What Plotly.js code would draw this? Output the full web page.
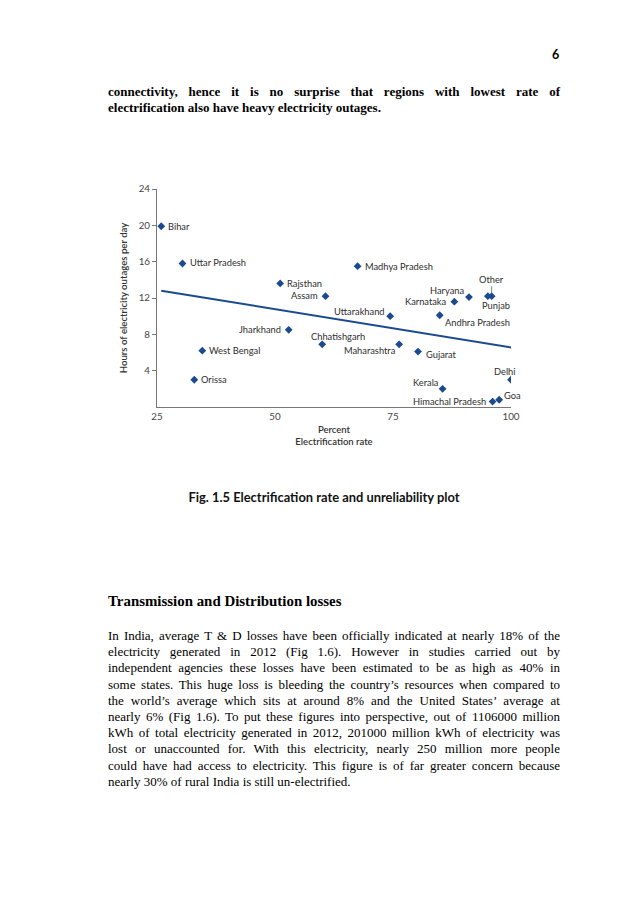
<!DOCTYPE html>
<html>
<head>
<meta charset="utf-8">
<script src="https://cdn.plot.ly/plotly-3.0.1.min.js"></script>
<style>
  html, body { margin: 0; padding: 0; background: #fff; }
  #page { position: relative; width: 638px; height: 903px; background: #fff; overflow: hidden; }
  .ln { position: absolute; left: 108px; width: 452px; white-space: nowrap; font-family: "Liberation Serif", "Times New Roman", serif; font-size: 13px; color: #000; }
  .just { text-align: justify; text-align-last: justify; white-space: normal; }
  .bold { font-weight: bold; }
  #chart { position: absolute; left: 100px; top: 170px; width: 440px; height: 300px; }
  #pnum { position: absolute; left: 552px; top: 47px; font-family: Lato, "Open Sans", sans-serif; font-weight: bold; font-size: 12.5px; }
  #caption { position: absolute; left: 0; width: 648px; top: 489px; text-align: center; font-family: Lato, "Open Sans", sans-serif; font-weight: bold; font-size: 12.9px; color: #111; }
</style>
</head>
<body>
<div id="page">
  <div id="pnum">6</div>
  <div class="ln bold just" style="top:84px;">connectivity, hence it is no surprise that regions with lowest rate of</div>
  <div class="ln bold" style="top:100px;">electrification also have heavy electricity outages.</div>
  <div id="chart"></div>
  <div id="caption">Fig. 1.5 Electrification rate and unreliability plot</div>
  <div class="ln bold" style="top:593px; font-size:14.9px;">Transmission and Distribution losses</div>
  <div id="para"></div>
</div>
<script>
// ---- Data ----
var states = ["Bihar", "Uttar Pradesh", "Rajsthan", "Assam", "Madhya Pradesh", "Haryana",
  "Karnataka", "Other", "Punjab", "Uttarakhand", "Andhra Pradesh", "Chhatishgarh",
  "Maharashtra", "Gujarat", "Delhi", "Kerala", "Himachal Pradesh", "Goa",
  "Jharkhand", "West Bengal", "Orissa"];
var electrificationRate = [25.9, 30.4, 51.1, 60.7, 67.5, 91.1,
  88.0, 95.9, 95.1, 74.4, 84.9, 60.0,
  76.3, 80.3, 100, 85.5, 96.1, 97.5,
  52.9, 34.6, 32.9];
var outageHours = [19.9, 15.8, 13.6, 12.2, 15.5, 12.1,
  11.6, 12.2, 12.2, 10.0, 10.1, 6.9,
  6.9, 6.1, 3.0, 2.0, 0.6, 0.8,
  8.5, 6.2, 3.0];
var trendX = [25.9, 100];
var trendY = [12.8, 6.55];
var xTicks = [25, 50, 75, 100];
var yTicks = [4, 8, 12, 16, 20, 24];

// ---- Label placement (style, not data): [xanchor, xshift, yshift] ----
var labelPlacement = {
  "Bihar": ["left", 5, 0], "Uttar Pradesh": ["left", 6, 1], "Rajsthan": ["left", 5, 0],
  "Assam": ["right", -6, 1], "Madhya Pradesh": ["left", 5, 0], "Haryana": ["right", -3, 7],
  "Karnataka": ["right", -5, 0], "Punjab": ["center", 8, -9], "Uttarakhand": ["right", -3, 5],
  "Andhra Pradesh": ["left", 3, -7], "Chhatishgarh": ["center", 16, 8], "Maharashtra": ["right", -1, -6],
  "Gujarat": ["left", 6, -3], "Delhi": ["center", -6, 8], "Kerala": ["right", -2, 6],
  "Himachal Pradesh": ["right", -5, 0], "Goa": ["left", 3, 4], "Jharkhand": ["right", -6, 0],
  "West Bengal": ["left", 5, 0], "Orissa": ["left", 5, 0]
};

var paraLines = [
  "In India, average T &amp; D losses have been officially indicated at nearly 18% of the",
  "electricity generated in 2012 (Fig 1.6). However in studies carried out by",
  "independent agencies these losses have been estimated to be as high as 40% in",
  "some states. This huge loss is bleeding the country\u2019s resources when compared to",
  "the world\u2019s average which sits at around 8% and the United States\u2019 average at",
  "nearly 6% (Fig 1.6). To put these figures into perspective, out of 1106000 million",
  "kWh of total electricity generated in 2012, 201000 million kWh of electricity was",
  "lost or unaccounted for. With this electricity, nearly 250 million more people",
  "could have had access to electricity. This figure is of far greater concern because",
  "nearly 30% of rural India is still un-electrified."
];
var paraHtml = "";
for (var i = 0; i < paraLines.length; i++) {
  var cls = (i < paraLines.length - 1) ? "ln just" : "ln";
  paraHtml += '<div class="' + cls + '" style="top:' + (628 + i * 16.2).toFixed(1) + 'px;">' + paraLines[i] + '</div>';
}
document.getElementById("para").innerHTML = paraHtml;

var blue = "#1b4a8f";
var chartFont = "Lato, 'Open Sans', sans-serif";
var labelFont = { family: chartFont, size: 9.3, color: "#2e2e2e" };

var annotations = [];
states.forEach(function (s, i) {
  if (s === "Other") {
    annotations.push({
      x: electrificationRate[i], y: outageHours[i], text: s, showarrow: true,
      arrowhead: 0, arrowwidth: 0.8, arrowcolor: "#666", ax: 0, ay: -17,
      standoff: 3, font: labelFont
    });
    return;
  }
  var p = labelPlacement[s];
  annotations.push({
    x: electrificationRate[i], y: outageHours[i], text: s, showarrow: false,
    xanchor: p[0], yanchor: "middle", xshift: p[1], yshift: p[2],
    font: labelFont
  });
});

var traces = [
  {
    x: trendX, y: trendY, mode: "lines", type: "scatter",
    line: { color: blue, width: 2 }, hoverinfo: "skip", showlegend: false
  },
  {
    x: electrificationRate, y: outageHours, text: states, mode: "markers", type: "scatter",
    marker: { symbol: "diamond", size: 6, color: blue }, showlegend: false
  }
];

var tickFont = { family: chartFont, size: 9.8, color: "#444" };
var layout = {
  width: 440, height: 300,
  margin: { l: 57, r: 29, t: 19, b: 63 },
  paper_bgcolor: "#fff", plot_bgcolor: "#fff",
  font: { family: chartFont, size: 9, color: "#444" },
  showlegend: false,
  xaxis: {
    range: [25, 100], tickvals: xTicks, ticktext: xTicks.map(String),
    showgrid: false, zeroline: false, showline: true, linecolor: "#777", linewidth: 1,
    ticks: "", tickfont: tickFont,
    title: { text: "Percent<br>Electrification rate", standoff: 5,
      font: { family: chartFont, size: 9.5, color: "#333", weight: 600 } },
    fixedrange: true
  },
  yaxis: {
    range: [0, 24], tickvals: yTicks, ticktext: yTicks.map(String),
    showgrid: false, zeroline: false, showline: true, linecolor: "#777", linewidth: 1,
    ticks: "outside", ticklen: 4, tickcolor: "#777", tickfont: tickFont,
    title: { text: "Hours of electricity outages per day", standoff: 9,
      font: { family: chartFont, size: 9.6, color: "#333", weight: 600 } },
    fixedrange: true
  },
  annotations: annotations
};

Plotly.newPlot("chart", traces, layout, { displayModeBar: false, staticPlot: true });
</script>
</body>
</html>
